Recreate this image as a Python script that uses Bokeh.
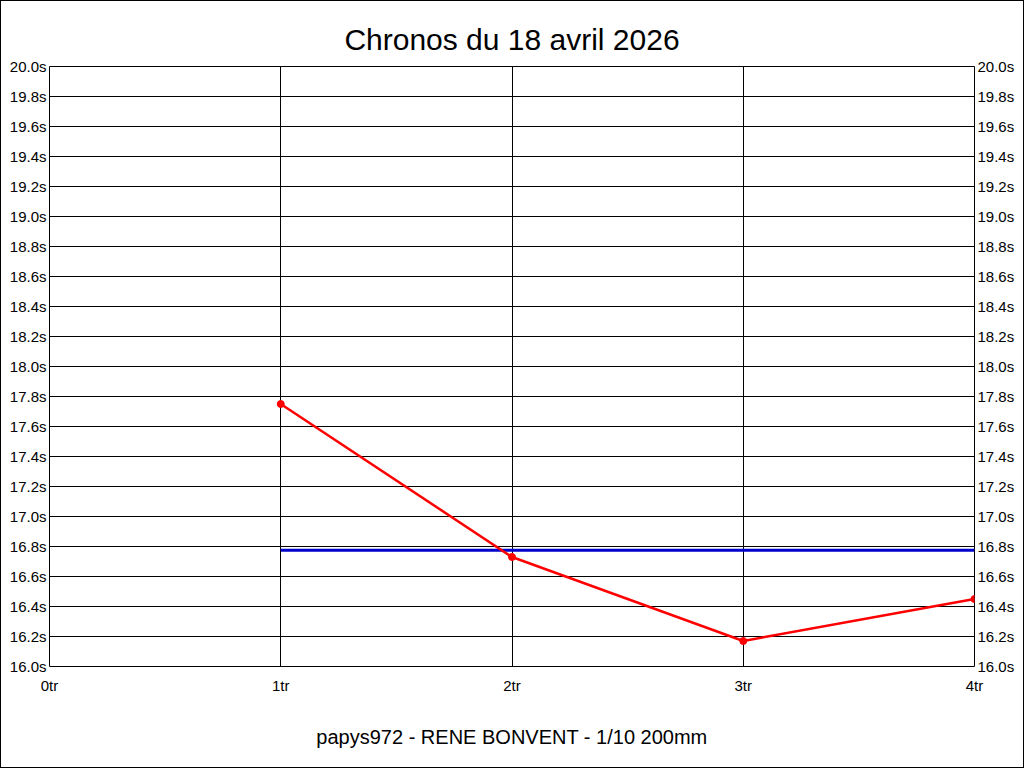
from bokeh.plotting import figure
from bokeh.models import FixedTicker, Range1d, LinearAxis
from bokeh.embed import file_html
from bokeh.resources import INLINE

# Data
laps = [1, 2, 3, 4]
times = [17.75, 16.73, 16.17, 16.45]
avg_x = [1, 4]
avg_y = [16.775, 16.775]

x_ticks = [0, 1, 2, 3, 4]
x_labels = ["0tr", "1tr", "2tr", "3tr", "4tr"]
y_ticks = [16.0, 16.2, 16.4, 16.6, 16.8, 17.0, 17.2, 17.4, 17.6, 17.8,
           18.0, 18.2, 18.4, 18.6, 18.8, 19.0, 19.2, 19.4, 19.6, 19.8, 20.0]
y_labels = ["%.1fs" % t for t in y_ticks]

title_text = "Chronos du 18 avril 2026"
footer_text = "papys972 - RENE BONVENT - 1/10 200mm"

FONT = "Liberation Sans"

p = figure(width=1024, height=768, output_backend="svg", toolbar_location=None,
           x_range=Range1d(0, 4), y_range=Range1d(16, 20),
           title=title_text)
p.min_border_left = 48
p.min_border_right = 51
p.min_border_top = 65
p.min_border_bottom = 103
p.background_fill_color = "white"
p.border_fill_color = "white"
p.outline_line_color = "black"
p.outline_line_width = 1
p.styles = {"border": "1px solid black", "box-sizing": "border-box"}

p.title.text_font = FONT
p.title.text_font_size = "30px"
p.title.text_font_style = "normal"
p.title.align = "center"
p.title.text_color = "black"
p.title.standoff = 21

# grids
p.xgrid.ticker = FixedTicker(ticks=x_ticks)
p.ygrid.ticker = FixedTicker(ticks=y_ticks)
for g in (p.xgrid, p.ygrid):
    g.grid_line_color = "black"
    g.grid_line_width = 1
    g.grid_line_alpha = 1.0

# x axis
xa = p.xaxis[0]
xa.ticker = FixedTicker(ticks=x_ticks)
xa.major_label_overrides = {t: l for t, l in zip(x_ticks, x_labels)}
xa.axis_label = footer_text
xa.axis_label_text_font = FONT
xa.axis_label_text_font_size = "20px"
xa.axis_label_text_font_style = "normal"
xa.axis_label_text_color = "black"
xa.axis_label_standoff = 29

# right axis
ra = LinearAxis()
p.add_layout(ra, "right")

for ax in (p.yaxis[0], ra):
    ax.ticker = FixedTicker(ticks=y_ticks)
    ax.major_label_overrides = {t: l for t, l in zip(y_ticks, y_labels)}
    ax.major_label_standoff = 3

for ax in (xa, p.yaxis[0], ra):
    ax.axis_line_color = None
    ax.major_tick_line_color = None
    ax.minor_tick_line_color = None
    ax.major_tick_out = 0
    ax.major_tick_in = 0
    ax.major_label_text_font = FONT
    ax.major_label_text_font_size = "15px"
    ax.major_label_text_color = "black"
xa.major_label_standoff = 10

# average line
p.line(avg_x, avg_y, line_color="#0000cc", line_width=3)
# times
p.line(laps, times, line_color="#ff0000", line_width=2.5)
p.scatter(laps, times, size=7, fill_color="#ff0000", line_color="#ff0000")

open("out.html", "w").write(file_html(p, INLINE))
